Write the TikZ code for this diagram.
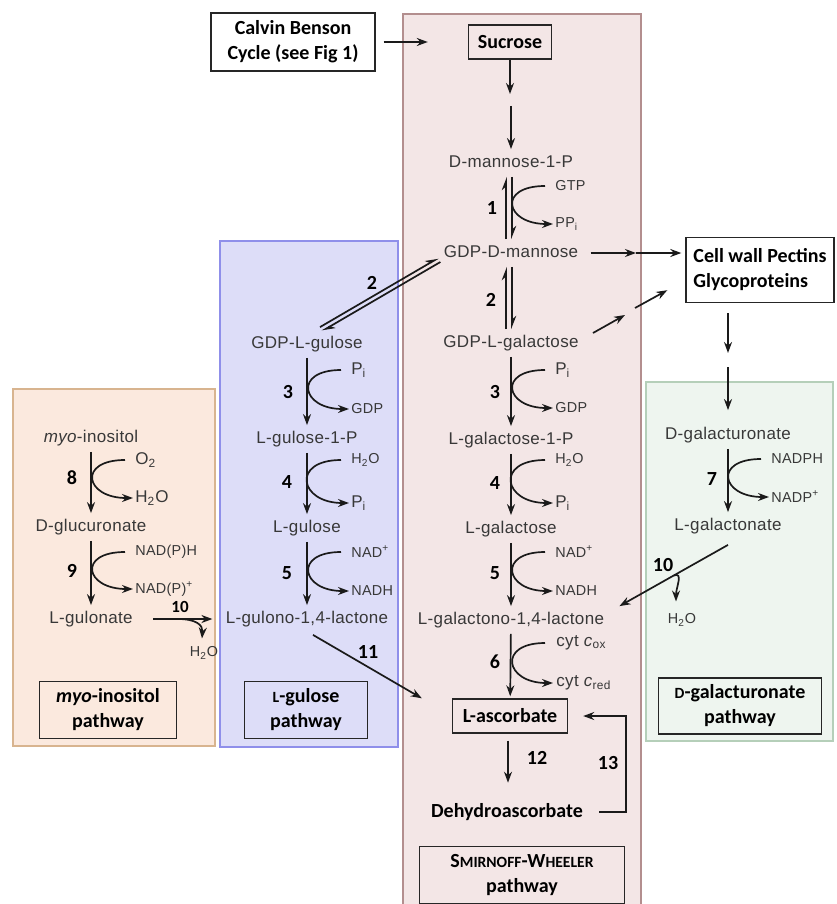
\documentclass[tikz,border=0pt]{standalone}
\usepackage{fontspec}
\setmainfont{Carlito}
\newfontfamily\chemfont[LetterSpace=2]{Liberation Sans}
\usetikzlibrary{arrows.meta,calc,positioning}
\usepackage{xcolor}
\definecolor{swfill}{HTML}{F3E6E6}
\definecolor{swedge}{HTML}{B38E8E}
\definecolor{gulfill}{HTML}{DDDDF8}
\definecolor{guledge}{HTML}{8F8FEA}
\definecolor{myofill}{HTML}{FBE9DE}
\definecolor{myoedge}{HTML}{D8B48F}
\definecolor{galfill}{HTML}{EEF5EF}
\definecolor{galedge}{HTML}{B5CFB9}
\definecolor{chemgray}{HTML}{383838}
\definecolor{arrowcol}{HTML}{1A1A1A}
\newcommand{\fakesc}[1]{{\fontsize{7.8}{9}\selectfont #1}}

\tikzset{
  chem/.style={font=\chemfont\fontsize{8.5}{10}\selectfont, text=chemgray, inner sep=0pt, text height=6pt, text depth=1.5pt},
  co/.style={font=\chemfont\fontsize{7.2}{8}\selectfont, text=chemgray, inner sep=0pt, anchor=west},
  cobig/.style={co, font=\chemfont\fontsize{8.5}{10}\selectfont},
  num/.style={font=\bfseries\fontsize{10}{12}\selectfont, inner sep=0pt},
  box/.style={draw=black!85, line width=0.7pt, font=\bfseries\fontsize{10}{12.5}\selectfont, align=center, inner sep=0pt},
  rx/.style={-{Stealth[length=5.5pt,width=4pt]}, line width=0.85pt, draw=arrowcol},
  eq/.style={-{Stealth[left,length=5.5pt,width=4.2pt]}, line width=0.85pt, draw=arrowcol},
  vshort/.style={shorten <=3pt, shorten >=3pt},
}

\begin{document}
\begin{tikzpicture}[x=0.5pt,y=-0.5pt,>=Stealth]
  \useasboundingbox (0,0) rectangle (836,904);

  % Pathway panels
  \filldraw[fill=swfill, draw=swedge, line width=1.1pt] (403,14) rectangle (641,920);
  \filldraw[fill=gulfill, draw=guledge, line width=1.1pt] (220,241) rectangle (398,747);
  \filldraw[fill=myofill, draw=myoedge, line width=1.1pt] (13,389) rectangle (215,746);
  \filldraw[fill=galfill, draw=galedge, line width=1.1pt] (646,382) rectangle (833,741);

  % Inputs / outputs
  \node[box, minimum width=82pt, minimum height=29pt] (calvin) at (293,42) {Calvin Benson\\Cycle (see Fig 1)};
  \node[box, minimum width=41.5pt, minimum height=17pt] (suc) at (510,42) {Sucrose};
  \node[box, minimum width=74pt, minimum height=32.5pt, align=left] (cellwall) at (760,270) {Cell wall Pectins\\Glycoproteins};

  % Smirnoff-Wheeler column
  \node[chem] (man1p)  at (511,163) {D-mannose-1-P};
  \node[chem] (gdpman) at (511,253) {GDP-D-mannose};
  \node[chem] (gdpgal) at (511,343) {GDP-L-galactose};
  \node[chem] (gal1p)  at (511,440) {L-galactose-1-P};
  \node[chem] (gal)    at (511,529) {L-galactose};
  \node[chem] (galac)  at (511,620) {L-galactono-1,4-lactone};
  \node[box, minimum width=57.5pt, minimum height=17pt] (asc) at (510,716) {L-ascorbate};
  \node[num] (dha) at (507,812) {Dehydroascorbate};
  \node[box, minimum width=102.5pt, minimum height=28.5pt] (swbox) at (522,875) {S\fakesc{MIRNOFF}-W\fakesc{HEELER}\\pathway};

  % L-gulose column
  \node[chem] (gdpgul) at (307,344) {GDP-L-gulose};
  \node[chem] (gul1p)  at (307,439) {L-gulose-1-P};
  \node[chem] (gul)    at (307,528) {L-gulose};
  \node[chem] (gulac)  at (307,619) {L-gulono-1,4-lactone};
  \node[box, minimum width=61.5pt, minimum height=28.5pt] (gulbox) at (306,710) {\fakesc{L}-gulose\\pathway};

  % myo-inositol column
  \node[chem] (myo)   at (91,438) {\textit{myo}-inositol};
  \node[chem] (glcu)  at (91,527) {D-glucuronate};
  \node[chem] (gulon) at (91,619) {L-gulonate};
  \node[box, minimum width=68.5pt, minimum height=28.5pt] (myobox) at (108,710) {\textit{myo}-inositol\\pathway};

  % D-galacturonate column
  \node[chem] (galu)  at (728,435) {D-galacturonate};
  \node[chem] (galon) at (728,526) {L-galactonate};
  \node[box, minimum width=81.5pt, minimum height=28pt] (galbox) at (740,706) {\fakesc{D}-galacturonate\\pathway};

  % Feeding arrows
  \draw[rx] ($(calvin.east)+(8,0)$) -- ($(suc.west)+(-40,0)$);
  \coordinate (gapA) at (510,94);
  \coordinate (gapB) at (511,106);
  \draw[rx] (suc) -- (gapA);
  \draw[rx, shorten >=3pt] (gapB) -- (man1p);

  % 1 and 2: reversible steps
  \draw[eq, vshort] ($(gdpman.north)+(-5,0)$) -- ($(man1p.south)+(-5,0)$);
  \draw[eq, vshort] ($(man1p.south)+(1,0)$) -- ($(gdpman.north)+(1,0)$);
  \draw[eq, vshort] ($(gdpgal.north)+(-5,0)$) -- ($(gdpman.south)+(-5,0)$);
  \draw[eq, vshort] ($(gdpman.south)+(1,0)$) -- ($(gdpgal.north)+(1,0)$);
  \draw[eq] ($(gdpgul.north)+(13,-9)$) -- ($(gdpman.west)+(-5,5)$);
  \draw[eq] ($(gdpman.west)+(-3,9)$) -- ($(gdpgul.north)+(15,-5)$);
  \node[num] (n1) at (492,208) {1};
  \node[num] (n2) at (491,300) {2};
  \node[num] (n2g) at (372,283) {2};
  \node[co] (gtp) at (555,186) {GTP};
  \node[co] (ppi) at (555,224) {PP\textsubscript{i}};
  \draw[rx] ($(gtp.west)+(-10,0)$) .. controls +(-48,0) and +(-48,0) .. ($(ppi.west)+(-2,0)$);

  % to cell wall
  \coordinate (cwmid) at (636,253);
  \draw[rx, shorten <=6pt] (gdpman) -- (cwmid);
  \draw[rx, shorten >=2pt] (cwmid) -- (cwmid -| cellwall.west);
  \coordinate (gcA) at (625,315);
  \coordinate (gcB) at (635,308);
  \draw[rx] ($(gdpgal.east)+(14,-10)$) -- (gcA);
  \draw[rx] (gcB) -- ($(cellwall.south west)+(-18,-13)$);
  \coordinate (cwA) at (728,353);
  \coordinate (cwB) at (728,367);
  \draw[rx, shorten <=5pt] (cwA |- cellwall.south) -- (cwA);
  \draw[rx, shorten >=8.5pt] (cwB) -- (galu);

  % Smirnoff-Wheeler steps 3-6
  \draw[rx, vshort] (gdpgal) -- (gal1p);
  \node[num] (n3) at (495,392) {3};
  \node[cobig] (piA) at (555,370) {P\textsubscript{i}};
  \node[co] (gdpA) at (555,408) {GDP};
  \draw[rx] ($(piA.west)+(-10,0)$) .. controls +(-48,0) and +(-48,0) .. ($(gdpA.west)+(-2,0)$);

  \draw[rx, vshort] (gal1p) -- (gal);
  \node[num] (n4) at (495,483) {4};
  \node[co] (h2oA) at (555,460) {H\textsubscript{2}O};
  \node[cobig] (piB) at (555,503) {P\textsubscript{i}};
  \draw[rx] ($(h2oA.west)+(-10,0)$) .. controls +(-50,0) and +(-50,0) .. ($(piB.west)+(-2,0)$);

  \draw[rx, vshort] (gal) -- (galac);
  \node[num] (n5) at (495,573) {5};
  \node[co] (nadA) at (555,552) {NAD\textsuperscript{+}};
  \node[co] (nadhA) at (555,591) {NADH};
  \draw[rx] ($(nadA.west)+(-10,0)$) .. controls +(-48,0) and +(-48,0) .. ($(nadhA.west)+(-2,0)$);

  \draw[rx, shorten <=3pt, shorten >=1pt] (galac) -- (asc);
  \node[num] (n6) at (495,662) {6};
  \node[cobig] (cox) at (556,643) {cyt \textit{c}\textsubscript{ox}};
  \node[cobig] (cred) at (556,683) {cyt \textit{c}\textsubscript{red}};
  \draw[rx] ($(cox.west)+(-11,0)$) .. controls +(-48,0) and +(-48,0) .. ($(cred.west)+(-3,0)$);

  % L-gulose steps 3-5
  \draw[rx, vshort] (gdpgul) -- (gul1p);
  \node[num] (n3g) at (288,392) {3};
  \node[cobig] (piC) at (351,370) {P\textsubscript{i}};
  \node[co] (gdpC) at (351,409) {GDP};
  \draw[rx] ($(piC.west)+(-10,0)$) .. controls +(-48,0) and +(-48,0) .. ($(gdpC.west)+(-2,0)$);

  \draw[rx, vshort] (gul1p) -- (gul);
  \node[num] (n4g) at (287,482) {4};
  \node[co] (h2oC) at (351,460) {H\textsubscript{2}O};
  \node[cobig] (piD) at (351,503) {P\textsubscript{i}};
  \draw[rx] ($(h2oC.west)+(-10,0)$) .. controls +(-50,0) and +(-50,0) .. ($(piD.west)+(-2,0)$);

  \draw[rx, vshort] (gul) -- (gulac);
  \node[num] (n5g) at (287,573) {5};
  \node[co] (nadC) at (351,552) {NAD\textsuperscript{+}};
  \node[co] (nadhC) at (351,591) {NADH};
  \draw[rx] ($(nadC.west)+(-10,0)$) .. controls +(-48,0) and +(-48,0) .. ($(nadhC.west)+(-2,0)$);

  % myo-inositol steps 8-10
  \draw[rx, vshort] (myo) -- (glcu);
  \node[num] (n8) at (72,478) {8};
  \node[cobig] (o2) at (135,460) {O\textsubscript{2}};
  \node[cobig] (h2oM) at (135,498) {H\textsubscript{2}O};
  \draw[rx] ($(o2.west)+(-10,0)$) .. controls +(-48,0) and +(-48,0) .. ($(h2oM.west)+(-2,0)$);

  \draw[rx, vshort] (glcu) -- (gulon);
  \node[num] (n9) at (72,571) {9};
  \node[co] (nadph) at (135,552) {NAD(P)H};
  \node[co] (nadp) at (135,589) {NAD(P)\textsuperscript{+}};
  \draw[rx] ($(nadph.west)+(-10,0)$) .. controls +(-48,0) and +(-48,0) .. ($(nadp.west)+(-2,0)$);

  \draw[rx, shorten <=10pt, shorten >=6.5pt] (gulon) -- (gulac);
  \node[num, font=\bfseries\fontsize{8.5}{10}\selectfont] (n10o) at (180,607) {10};
  \coordinate (r10o) at (178,619);
  \node[co, anchor=center] (h2oO) at (204,653) {H\textsubscript{2}O};
  \draw[rx] (r10o) .. controls (196,619) and (203,625) .. ($(h2oO.north)+(-2,-8)$);

  % D-galacturonate steps 7 and 10
  \draw[rx, vshort] (galu) -- (galon);
  \node[num] (n7) at (712,479) {7};
  \node[co] (nadphG) at (771,459) {NADPH};
  \node[co] (nadpG) at (771,497) {NADP\textsuperscript{+}};
  \draw[rx] ($(nadphG.west)+(-10,0)$) .. controls +(-48,0) and +(-48,0) .. ($(nadpG.west)+(-2,0)$);

  \coordinate (r10s) at ($(galon.south)+(0,11)$);
  \coordinate (r10e) at ($(galac.north east)+(15,-6)$);
  \draw[rx] (r10s) -- (r10e);
  \coordinate (r10g) at ($(r10s)!0.5!(r10e)$);
  \node[co, anchor=center] (h2oG) at (682,620) {H\textsubscript{2}O};
  \draw[rx] (r10g) .. controls +(10,-4) and +(0,-14) .. ($(h2oG.north)+(-6,-12)$);
  \node[num] (n10g) at (663,565) {10};

  % 11, 12, 13
  \draw[rx] ($(gulac.south)+(6,8)$) -- ($(asc.north west)+(-30,0)$);
  \node[num] (n11) at (368,652) {11};
  \draw[rx] ($(asc.south)+(-2,7)$) -- ($(asc.south)+(-2,49)$);
  \node[num] (n12) at (537,758) {12};
  \draw[rx] ($(dha.east)+(16,0)$) -| ($(asc.east)+(58,0)$) -- ($(asc.east)+(15,0)$);
  \node[num] (n13) at (608,763) {13};
\end{tikzpicture}
\end{document}
